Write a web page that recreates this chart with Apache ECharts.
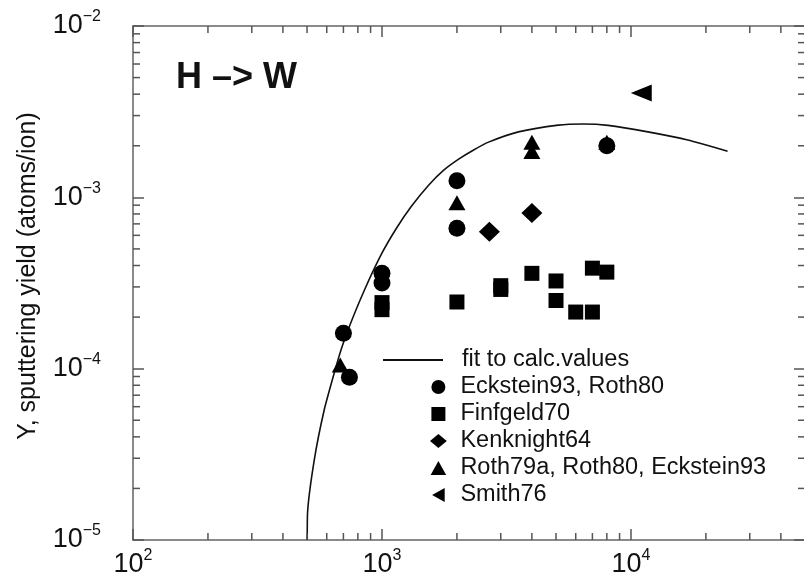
<!DOCTYPE html>
<html>
<head>
<meta charset="utf-8">
<script src="https://cdn.jsdelivr.net/npm/echarts@6/dist/echarts.min.js"></script>
<style>
  html, body { margin: 0; padding: 0; background: #fff; }
  #chart { width: 804px; height: 578px; }
</style>
</head>
<body>
<div id="chart"></div>
<script>
// Sputtering yield of tungsten by hydrogen ions: measured data and fit curve.
const FONT = '"Liberation Sans", Arial, Helvetica, sans-serif';
const INK = '#111';
const FRAME = '#8a8a8a';
const TICK = '#555';

const X_MIN = 100, X_MAX = 50000;
const Y_MIN = 1e-5, Y_MAX = 1e-2;

// Minor tick positions (2..9 within each decade)
const xMinorTicks = [200, 300, 400, 500, 600, 700, 800, 900,
  2000, 3000, 4000, 5000, 6000, 7000, 8000, 9000, 20000, 30000, 40000];
const yMinorTicks = [2e-5, 3e-5, 4e-5, 5e-5, 6e-5, 7e-5, 8e-5, 9e-5,
  2e-4, 3e-4, 4e-4, 5e-4, 6e-4, 7e-4, 8e-4, 9e-4,
  2e-3, 3e-3, 4e-3, 5e-3, 6e-3, 7e-3, 8e-3, 9e-3];

// Fit to calculated values: energy (eV) and yield (atoms/ion)
const fitEnergy = [501, 502.4, 534.5, 586, 643, 686, 738, 847, 991, 1138, 1306, 1542,
  1770, 2032, 2334, 2679, 3532, 5105, 6427, 8091, 11695, 16904, 24434];
const fitYield = [1.0e-5, 1.44e-5, 2.93e-5, 5.74e-5, 9.43e-5, 1.30e-4, 1.75e-4, 2.84e-4,
  4.61e-4, 6.53e-4, 8.78e-4, 1.18e-3, 1.44e-3, 1.67e-3, 1.89e-3, 2.10e-3, 2.41e-3,
  2.64e-3, 2.68e-3, 2.63e-3, 2.41e-3, 2.16e-3, 1.86e-3];

// Measured yields: [energy eV, yield atoms/ion]
const ecksteinRoth80 = [[700, 1.61e-4], [740, 8.9e-5], [1000, 3.61e-4], [1000, 3.16e-4],
  [2000, 1.25e-3], [2000, 6.6e-4], [8000, 2.0e-3]];
const finfgeld70 = [[1000, 2.43e-4], [1000, 2.21e-4], [2000, 2.45e-4], [3000, 3.05e-4],
  [3000, 2.9e-4], [4000, 3.6e-4], [5000, 3.25e-4], [5000, 2.5e-4], [6000, 2.14e-4],
  [7000, 2.14e-4], [7000, 3.86e-4], [8000, 3.66e-4]];
const kenknight64 = [[2700, 6.3e-4], [4000, 8.1e-4]];
const roth79a = [[680, 1.05e-4], [2000, 9.3e-4], [4000, 2.10e-3], [4000, 1.85e-3], [8000, 2.1e-3]];
const smith76 = [[11000, 4.06e-3]];

const names = {
  fit: 'fit to calc.values',
  eck: 'Eckstein93, Roth80',
  fin: 'Finfgeld70',
  ken: 'Kenknight64',
  roth: 'Roth79a, Roth80, Eckstein93',
  smith: 'Smith76'
};

function powerLabel(v) {
  const p = Math.log10(v);
  const e = Math.round(p);
  if (Math.abs(p - e) > 1e-6) return '';
  return '{b|10}{s|' + (e < 0 ? '\u2212' + (-e) : e) + '}';
}
const labelRich = {
  b: { fontFamily: FONT, fontSize: 27, color: INK, lineHeight: 34 },
  s: { fontFamily: FONT, fontSize: 16, color: INK, lineHeight: 16, verticalAlign: 'top' }
};

function axisBase(extra) {
  return Object.assign({
    type: 'log',
    logBase: 10,
    splitLine: { show: false },
    minorTick: { show: false },
    minorSplitLine: { show: false },
    axisLine: { show: true, onZero: false, lineStyle: { color: FRAME, width: 2 } },
    axisTick: { show: true, inside: true, length: 11, lineStyle: { color: TICK, width: 1.5 } }
  }, extra);
}

const legendText = { fontFamily: FONT, fontSize: 23.5, color: INK };

const chart = echarts.init(document.getElementById('chart'), null, { renderer: 'canvas' });

const option = {
  backgroundColor: '#fff',
  animation: false,
  title: {
    text: 'H \u2013> W',
    left: 176, top: 60, padding: 0,
    textStyle: { fontFamily: FONT, fontSize: 36, fontWeight: 'bold', color: INK }
  },
  grid: { left: 133, top: 26, width: 672, height: 514, containLabel: false, outerBoundsMode: 'none' },
  legend: [
    {
      data: [{ name: names.fit, icon: 'rect' }],
      orient: 'vertical', left: 383, top: 348, padding: 0,
      itemWidth: 60, itemHeight: 2, selectedMode: false,
      textStyle: Object.assign({ padding: [0, 0, 0, 14] }, legendText)
    },
    {
      data: [
        { name: names.eck, icon: 'circle' },
        { name: names.fin, icon: 'path://M0,0H10V10H0Z' },
        { name: names.ken, icon: 'path://M6,0L12,5L6,10L0,5Z' },
        { name: names.roth, icon: 'path://M5,0L10,9L0,9Z' },
        { name: names.smith, icon: 'path://M0,5L9,0L9,10Z' }
      ],
      orient: 'vertical', left: 430, top: 375, padding: 0,
      itemWidth: 20, itemHeight: 14, itemGap: 3, selectedMode: false,
      textStyle: Object.assign({ padding: [0, 0, 0, 7] }, legendText)
    }
  ],
  xAxis: [
    axisBase({
      min: X_MIN, max: X_MAX, position: 'bottom',
      axisLabel: { show: true, margin: 8, formatter: powerLabel, rich: labelRich, showMinLabel: true, showMaxLabel: false }
    }),
    axisBase({ min: X_MIN, max: X_MAX, position: 'top', axisLabel: { show: false } })
  ],
  yAxis: [
    axisBase({
      min: Y_MIN, max: Y_MAX, position: 'left',
      name: 'Y, sputtering yield (atoms/ion)',
      nameLocation: 'middle', nameGap: 92, nameRotate: 90,
      nameTextStyle: { fontFamily: FONT, fontSize: 25, color: INK, padding: [0, 0, 0, 14] },
      axisLabel: { show: true, margin: 32, formatter: powerLabel, rich: labelRich, showMinLabel: true, showMaxLabel: true }
    }),
    axisBase({ min: Y_MIN, max: Y_MAX, position: 'right', axisLabel: { show: false } })
  ],
  series: [
    {
      name: names.fit, type: 'line', symbol: 'none', showSymbol: false, smooth: 0.2,
      data: fitEnergy.map((e, i) => [e, fitYield[i]]),
      lineStyle: { color: INK, width: 1.6 }, itemStyle: { color: INK }, z: 3
    },
    {
      name: names.eck, type: 'scatter', symbol: 'circle', symbolSize: 17,
      data: ecksteinRoth80, itemStyle: { color: '#000', opacity: 1 }, z: 5
    },
    {
      name: names.fin, type: 'scatter', symbol: 'rect', symbolSize: 15,
      data: finfgeld70, itemStyle: { color: '#000', opacity: 1 }, z: 5
    },
    {
      name: names.ken, type: 'scatter', symbol: 'diamond', symbolSize: [21, 20],
      data: kenknight64, itemStyle: { color: '#000', opacity: 1 }, z: 5
    },
    {
      name: names.roth, type: 'scatter', symbol: 'triangle', symbolSize: [17, 15],
      data: roth79a, itemStyle: { color: '#000', opacity: 1 }, z: 4
    },
    {
      name: names.smith, type: 'scatter', symbol: 'triangle', symbolSize: [17, 21], symbolRotate: 90,
      data: smith76, itemStyle: { color: '#000', opacity: 1 }, z: 5
    },
    {
      // minor ticks on bottom and top frame edges
      type: 'custom', silent: true, clip: false, z: 10,
      data: xMinorTicks.map(v => [v, Y_MIN]),
      renderItem: function (params, api) {
        const v = api.value(0);
        const b = api.coord([v, Y_MIN]);
        const t = api.coord([v, Y_MAX]);
        const st = { stroke: TICK, lineWidth: 1.5 };
        return { type: 'group', children: [
          { type: 'line', shape: { x1: b[0], y1: b[1], x2: b[0], y2: b[1] - 7 }, style: st },
          { type: 'line', shape: { x1: t[0], y1: t[1], x2: t[0], y2: t[1] + 7 }, style: st }
        ] };
      }
    },
    {
      // minor ticks on left and right frame edges
      type: 'custom', silent: true, clip: false, z: 10,
      data: yMinorTicks.map(v => [X_MIN, v]),
      renderItem: function (params, api) {
        const v = api.value(1);
        const l = api.coord([X_MIN, v]);
        const r = api.coord([X_MAX, v]);
        const st = { stroke: TICK, lineWidth: 1.5 };
        return { type: 'group', children: [
          { type: 'line', shape: { x1: l[0], y1: l[1], x2: l[0] + 7, y2: l[1] }, style: st },
          { type: 'line', shape: { x1: r[0], y1: r[1], x2: r[0] - 7, y2: r[1] }, style: st }
        ] };
      }
    }
  ]
};

chart.setOption(option);
</script>
</body>
</html>
